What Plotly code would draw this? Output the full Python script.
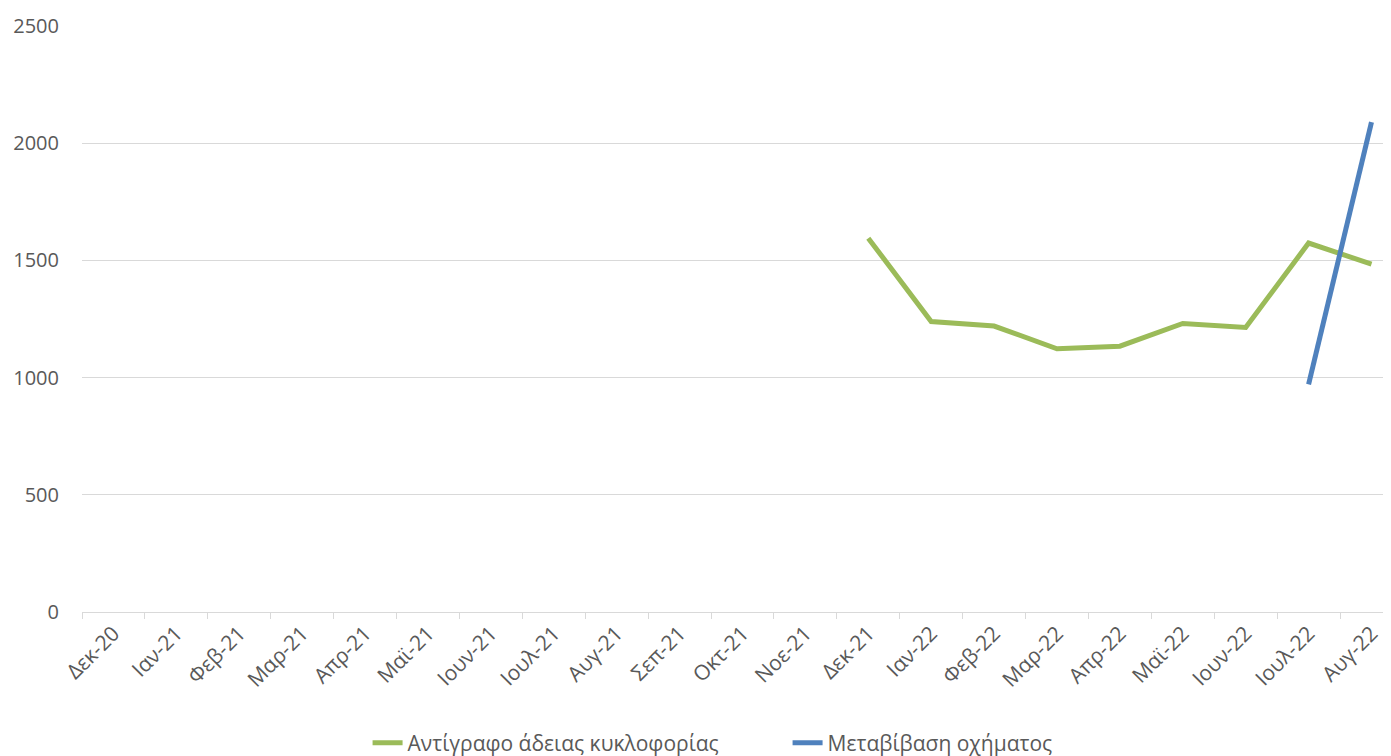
import plotly.graph_objects as go

months = ["Δεκ-20", "Ιαν-21", "Φεβ-21", "Μαρ-21", "Απρ-21", "Μαϊ-21", "Ιουν-21",
          "Ιουλ-21", "Αυγ-21", "Σεπ-21", "Οκτ-21", "Νοε-21", "Δεκ-21", "Ιαν-22",
          "Φεβ-22", "Μαρ-22", "Απρ-22", "Μαϊ-22", "Ιουν-22", "Ιουλ-22", "Αυγ-22"]

copy_license = [None] * 12 + [1595, 1239, 1220, 1123, 1134, 1231, 1214, 1574, 1484]
transfer = [None] * 19 + [971, 2090]

green = "#9BBB59"
blue = "#4F81BD"
grid = "#D9D9D9"
txt = "#595959"
font_family = "Open Sans, Liberation Sans, sans-serif"

fig = go.Figure()
fig.add_trace(go.Scatter(x=months, y=copy_license, mode="lines",
                         name="Αντίγραφο άδειας κυκλοφορίας",
                         line=dict(color=green, width=5)))
fig.add_trace(go.Scatter(x=months, y=transfer, mode="lines",
                         name="Μεταβίβαση οχήματος",
                         line=dict(color=blue, width=5)))

fig.update_layout(
    width=1383, height=748,
    margin=dict(l=74, r=0, t=18, b=144),
    paper_bgcolor="white", plot_bgcolor="white",
    font=dict(family=font_family, color=txt, size=19),
    showlegend=True,
    legend=dict(orientation="h", xref="container", yref="container",
                x=0.26, xanchor="left", y=0.0174, yanchor="middle",
                font=dict(size=21, color=txt), entrywidth=375, entrywidthmode="pixels",
                bgcolor="rgba(0,0,0,0)"),
    xaxis=dict(type="category", categoryorder="array", categoryarray=months,
               range=[-0.5, 20.31], tickangle=-45, tickson="boundaries",
               ticks="outside", ticklen=6, tickcolor=grid, showline=True,
               linecolor=grid, linewidth=1, showgrid=False, automargin=False,
               tickfont=dict(size=21, color=txt)),
    yaxis=dict(range=[0, 2500], dtick=500, showgrid=True, gridcolor=grid, gridwidth=1,
               zeroline=False, showline=False, ticks="", ticklabelstandoff=22,
               automargin=False, tickfont=dict(size=20, color=txt)),
)

fig.write_html("out.html")
